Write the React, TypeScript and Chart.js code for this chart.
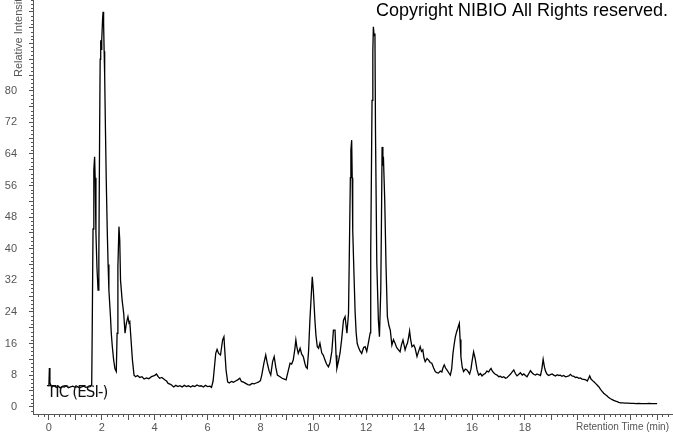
import React, { useEffect, useRef } from 'react';
import { Chart, registerables } from 'chart.js';

Chart.register(...registerables);

// Retention time (min) and relative intensity (%)
const retentionTimes = [
  0.0, 0.02, 0.04, 0.08, 0.12, 0.2, 0.28, 0.35, 0.42, 0.5, 0.58, 0.66, 0.74, 0.82, 0.9, 1.0, 1.08, 1.16, 1.24, 1.32, 1.4, 1.48, 1.56,
  1.62, 1.64, 1.67, 1.7, 1.73, 1.75, 1.78, 1.82, 1.86, 1.89, 1.92, 1.94, 1.96, 1.98, 2.0, 2.03, 2.05, 2.07, 2.09, 2.11, 2.14, 2.17,
  2.21, 2.24, 2.27, 2.33, 2.36, 2.4, 2.45, 2.5, 2.55, 2.58, 2.61, 2.65, 2.68, 2.71, 2.77, 2.83, 2.88, 2.93, 2.99, 3.03, 3.06, 3.09,
  3.16, 3.22, 3.28, 3.35, 3.44, 3.52, 3.6, 3.69, 3.78, 3.88, 3.96, 4.02, 4.07, 4.13, 4.19, 4.27, 4.38, 4.45, 4.51, 4.58, 4.64, 4.72,
  4.8, 4.88, 4.95, 5.04, 5.12, 5.2, 5.28, 5.36, 5.44, 5.52, 5.6, 5.68, 5.76, 5.84, 5.92, 6.0, 6.09, 6.15, 6.21, 6.26, 6.31, 6.36,
  6.42, 6.49, 6.53, 6.57, 6.62, 6.65, 6.7, 6.76, 6.82, 6.9, 6.98, 7.06, 7.14, 7.22, 7.28, 7.36, 7.44, 7.52, 7.6, 7.68, 7.76, 7.84,
  7.92, 8.0, 8.05, 8.13, 8.2, 8.26, 8.33, 8.39, 8.46, 8.52, 8.58, 8.64, 8.74, 8.82, 8.93, 8.97, 9.03, 9.12, 9.18, 9.24, 9.3, 9.34,
  9.38, 9.43, 9.5, 9.56, 9.62, 9.68, 9.72, 9.77, 9.82, 9.87, 9.92, 9.96, 10.0, 10.06, 10.1, 10.15, 10.2, 10.25, 10.32, 10.38, 10.44,
  10.5, 10.57, 10.63, 10.7, 10.76, 10.82, 10.86, 10.89, 10.95, 11.01, 11.07, 11.14, 11.2, 11.27, 11.33, 11.36, 11.4, 11.42, 11.45,
  11.47, 11.49, 11.54, 11.58, 11.62, 11.66, 11.7, 11.76, 11.83, 11.9, 11.96, 12.02, 12.08, 12.15, 12.17, 12.2, 12.22, 12.25, 12.27,
  12.3, 12.33, 12.35, 12.4, 12.46, 12.5, 12.55, 12.58, 12.6, 12.63, 12.65, 12.7, 12.75, 12.8, 12.86, 12.91, 12.97, 13.03, 13.09,
  13.15, 13.22, 13.28, 13.33, 13.39, 13.47, 13.52, 13.56, 13.6, 13.64, 13.68, 13.73, 13.8, 13.85, 13.92, 13.98, 14.04, 14.09, 14.14,
  14.18, 14.23, 14.3, 14.36, 14.42, 14.48, 14.55, 14.61, 14.67, 14.73, 14.8, 14.86, 14.9, 14.95, 15.0, 15.05, 15.12, 15.18, 15.23,
  15.28, 15.33, 15.37, 15.42, 15.46, 15.52, 15.55, 15.58, 15.63, 15.68, 15.75, 15.81, 15.86, 15.91, 15.96, 16.0, 16.06, 16.12, 16.19,
  16.25, 16.32, 16.38, 16.44, 16.5, 16.56, 16.63, 16.68, 16.72, 16.77, 16.82, 16.88, 16.95, 17.01, 17.07, 17.14, 17.2, 17.27, 17.33,
  17.39, 17.45, 17.52, 17.58, 17.64, 17.7, 17.77, 17.83, 17.9, 17.96, 18.02, 18.08, 18.15, 18.21, 18.27, 18.33, 18.4, 18.46, 18.52,
  18.59, 18.64, 18.69, 18.74, 18.78, 18.84, 18.9, 18.96, 19.03, 19.09, 19.16, 19.22, 19.28, 19.34, 19.4, 19.47, 19.53, 19.6, 19.66,
  19.72, 19.78, 19.85, 19.91, 19.97, 20.04, 20.1, 20.16, 20.23, 20.3, 20.36, 20.41, 20.45, 20.5, 20.56, 20.61, 20.67, 20.73, 20.8,
  20.86, 20.92, 20.98, 21.05, 21.11, 21.17, 21.24, 21.3, 21.36, 21.43, 21.49, 21.55, 21.61, 21.7, 21.8, 21.9, 22.0, 22.1, 22.2, 22.3,
  22.4, 22.5, 22.6, 22.7, 22.8, 22.9, 23.0,
];

const relativeIntensity = [
  5.2, 9.8, 6.0, 5.4, 5.0, 5.3, 4.9, 5.2, 4.8, 5.1, 5.0, 5.3, 4.8, 5.0, 5.2, 4.9, 5.1, 4.8, 5.0, 5.2, 4.9, 5.0, 5.1,
  5.6, 20, 45, 60, 63.3, 58, 44, 35, 29.5, 38, 70, 88, 92.8, 90.5, 93, 98, 100, 97, 90, 84, 70, 57.4,
  43.9, 36, 29.5, 22.8, 18.6, 15.2, 11.8, 9.6, 8.9, 18.6, 35.4, 45.6, 42.2, 32, 27, 23.6, 18.6, 21.1, 22.8, 21.2, 21.5, 18.6,
  11.8, 8.0, 7.6, 7.9, 7.4, 7.6, 7.0, 7.3, 7.1, 7.6, 7.8, 8.0, 8.3, 7.6, 7.2, 7.4, 6.8, 6.5, 5.9, 5.7, 5.5, 5.0,
  5.4, 5.1, 5.3, 5.0, 5.4, 5.1, 5.3, 5.0, 5.3, 5.1, 5.5, 5.2, 5.3, 5.0, 5.4, 5.1, 5.2, 4.9, 6.5, 10, 13.5, 14.5,
  13.5, 13.1, 15, 16.9, 17.7, 14.4, 9.3, 6.3, 6.0, 6.4, 6.2, 6.5, 6.8, 7.2, 6.4, 6.2, 5.9, 5.6, 5.5, 5.9, 5.8, 6.0,
  6.2, 6.6, 8.0, 11, 13.1, 11, 9.0, 8.0, 11.4, 12.7, 10, 8.0, 7.6, 7.2, 6.9, 6.8, 8.5, 11.0, 10.8, 11.8, 14.5, 16.9,
  15, 13.5, 14.8, 13.3, 12.7, 11, 10.1, 9.7, 14, 21.9, 28, 32.9, 29.5, 21.9, 18, 15.2, 14.8, 16.1, 13.6, 13, 11.8,
  10.8, 10.1, 11.1, 14, 19.4, 19.4, 13, 9.7, 11.5, 13.6, 17, 21.9, 22.8, 18.6, 23.6, 38, 58, 65, 67.5,
  58, 44.7, 32.9, 24, 18.7, 16, 15.2, 14.2, 13.5, 15, 15.2, 14, 16.1, 18.7, 38.9, 62, 77.6, 90, 96.2,
  94, 94.5, 70, 36.3, 21.9, 17.7, 29.5, 50, 65.8, 61, 63.3, 52.3, 35.4, 22.8, 20.5, 19.4, 15.6, 17, 16.1,
  15, 14.4, 13.9, 15.6, 16.9, 14.4, 15.5, 16.1, 17.5, 19.2, 17, 15.2, 15.6, 14.8, 12.7, 14, 15.2, 14, 14.4,
  12.5, 11.4, 12.2, 11.8, 11.2, 11, 9.8, 8.9, 8.6, 8.5, 9, 8.8, 9.8, 10.6, 9.8, 9.3, 8.6, 8.0, 9.5,
  13.5, 16, 17.7, 19, 19.8, 21.1, 17, 12.7, 10, 8.9, 9.5, 9.3, 8.8, 8.3, 9.5, 11.4, 13.9, 12.2, 9.3,
  8.0, 8.4, 7.8, 8.2, 8.4, 9.0, 8.8, 9.4, 9.7, 9.0, 8.6, 8.2, 8.0, 7.6, 7.7, 7.4, 7.6, 7.2, 7.4,
  7.8, 8.2, 8.8, 9.3, 8.4, 7.8, 8.2, 8.6, 8.0, 8.3, 7.9, 7.6, 8.4, 9.1, 8.6, 8.2, 8.0, 8.3, 8.1,
  7.9, 9.5, 12, 10, 9, 8.2, 7.9, 8.1, 8.3, 8.0, 7.8, 8.1, 7.9, 8.0, 7.7, 7.9, 7.6, 7.7, 7.8,
  8.2, 7.8, 7.7, 7.4, 7.5, 7.2, 7.3, 7.0, 6.9, 6.8, 6.5, 7.2, 7.8, 7.0, 6.6, 6.3, 5.9, 5.5, 5.0,
  4.4, 3.9, 3.4, 3.0, 2.7, 2.3, 2.0, 1.8, 1.6, 1.4, 1.3, 1.1, 1.0, 0.95, 0.9, 0.9, 0.85, 0.85, 0.8, 0.85,
  0.8, 0.8, 0.8, 0.85, 0.8, 0.8, 0.8,
];

const xMajorTicks = [0, 1, 2, 3, 4, 5, 6, 7, 8, 9, 10, 11, 12, 13, 14, 15, 16, 17, 18, 19, 20, 21, 22, 23];
const xTickLabels = [0, 2, 4, 6, 8, 10, 12, 14, 16, 18];
const yMajorTicks = [0, 4, 8, 12, 16, 20, 24, 28, 32, 36, 40, 44, 48, 52, 56, 60, 64, 68, 72, 76, 80, 84, 88, 92, 96, 100];
const yTickLabels = [0, 8, 16, 24, 32, 40, 48, 56, 64, 72, 80];

const copyrightText = 'Copyright NIBIO All Rights reserved.';
const traceName = 'TIC (ESI-)';
const xAxisTitle = 'Retention Time (min)';
const yAxisTitle = 'Relative Intensity';

const FONT = "'Liberation Sans', Arial, sans-serif";
const AXIS_COLOR = '#555';
const TEXT_COLOR = '#555';

const zeroPadding = (s: any) => {
  s.paddingTop = 0;
  s.paddingBottom = 0;
  s.paddingLeft = 0;
  s.paddingRight = 0;
};

const decorPlugin = {
  id: 'decor',
  afterDraw(chart: any) {
    const ctx = chart.ctx as CanvasRenderingContext2D;
    const xs = chart.scales.x;
    const ys = chart.scales.y;
    const area = chart.chartArea;
    ctx.save();
    // minor ticks
    ctx.strokeStyle = AXIS_COLOR;
    ctx.lineWidth = 1;
    ctx.beginPath();
    for (let k = Math.ceil(xs.min / 0.2); k * 0.2 <= xs.max + 1e-9; k++) {
      if (k % 5 === 0) continue;
      const px = Math.round(xs.getPixelForValue(k * 0.2)) + 0.5;
      ctx.moveTo(px, area.bottom);
      ctx.lineTo(px, area.bottom + 3);
    }
    for (let k = Math.ceil(ys.min); k <= ys.max; k++) {
      if (k % 4 === 0) continue;
      const py = Math.round(ys.getPixelForValue(k)) + 0.5;
      ctx.moveTo(area.left - 2, py);
      ctx.lineTo(area.left, py);
    }
    ctx.stroke();

    // copyright
    ctx.fillStyle = '#000';
    ctx.font = `18px ${FONT}`;
    ctx.textAlign = 'left';
    ctx.textBaseline = 'alphabetic';
    ctx.fillText(copyrightText, 376, 16);

    // trace name
    ctx.fillStyle = '#111';
    ctx.font = `15px 'DejaVu Sans', sans-serif`;
    (ctx as any).letterSpacing = '-0.9px';
    ctx.textBaseline = 'middle';
    ctx.fillText(traceName, 47, 393);
    (ctx as any).letterSpacing = '0px';

    // x axis title
    ctx.fillStyle = TEXT_COLOR;
    ctx.font = `10px ${FONT}`;
    ctx.textBaseline = 'middle';
    ctx.fillText(xAxisTitle, 576, 427);

    // y axis title
    ctx.translate(19, 77);
    ctx.rotate(-Math.PI / 2);
    ctx.font = `11px ${FONT}`;
    ctx.textAlign = 'left';
    ctx.textBaseline = 'middle';
    ctx.fillText(yAxisTitle, 0, 0);
    ctx.restore();
  },
};

export default function App() {
  const canvasRef = useRef<HTMLCanvasElement | null>(null);

  useEffect(() => {
    document.body.style.margin = '0';
    const canvas = canvasRef.current;
    if (!canvas) return;
    const points = retentionTimes.map((t, i) => ({ x: t, y: relativeIntensity[i] }));
    const chart = new Chart(canvas, {
      type: 'line',
      data: {
        datasets: [
          {
            label: traceName,
            data: points,
            borderColor: '#000',
            borderWidth: 1.3,
            pointRadius: 0,
            tension: 0,
            fill: false,
          },
        ],
      },
      options: {
        animation: false,
        responsive: true,
        maintainAspectRatio: false,
        devicePixelRatio: 1,
        layout: { padding: 0 },
        plugins: {
          legend: { display: false },
          tooltip: { enabled: false },
          title: { display: false },
        },
        scales: {
          x: {
            type: 'linear',
            bounds: 'data',
            min: -0.6,
            max: 23.6,
            afterFit: (s: any) => {
              s.height = 19;
              zeroPadding(s);
            },
            afterBuildTicks: (s: any) => {
              s.ticks = xMajorTicks.map((v) => ({ value: v }));
            },
            ticks: {
              autoSkip: false,
              maxRotation: 0,
              padding: 1,
              color: TEXT_COLOR,
              font: { family: FONT, size: 11 },
              callback: (v: any) => (xTickLabels.includes(Number(v)) ? String(v) : ''),
            },
            grid: {
              drawOnChartArea: false,
              drawTicks: true,
              tickLength: 6,
              tickColor: AXIS_COLOR,
            },
            border: { display: true, color: AXIS_COLOR, width: 1 },
          },
          y: {
            type: 'linear',
            bounds: 'data',
            min: -1.85,
            max: 103,
            afterFit: (s: any) => {
              s.width = 33;
              zeroPadding(s);
            },
            afterBuildTicks: (s: any) => {
              s.ticks = yMajorTicks.map((v) => ({ value: v }));
            },
            ticks: {
              autoSkip: false,
              padding: 12,
              color: TEXT_COLOR,
              font: { family: FONT, size: 11 },
              callback: (v: any) => (yTickLabels.includes(Number(v)) ? String(v) : ''),
            },
            grid: {
              drawOnChartArea: false,
              drawTicks: true,
              tickLength: 4,
              tickColor: AXIS_COLOR,
            },
            border: { display: true, color: AXIS_COLOR, width: 1 },
          },
        },
      },
      plugins: [decorPlugin],
    });
    return () => chart.destroy();
  }, []);

  return (
    <div style={{ position: 'absolute', left: 0, top: 0, width: 673, height: 433, background: '#fff' }}>
      <canvas ref={canvasRef} />
    </div>
  );
}
